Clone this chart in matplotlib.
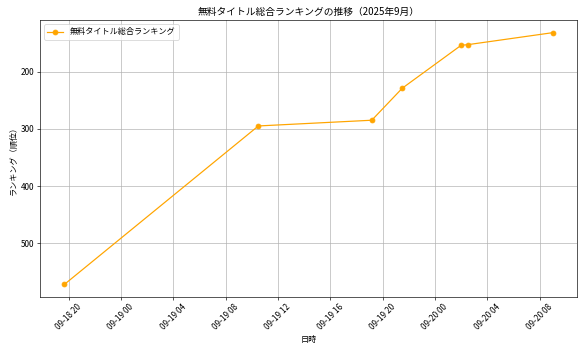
import pandas as pd
import matplotlib
matplotlib.use("Agg")
import matplotlib.pyplot as plt
import matplotlib.dates as mdates

plt.rcParams['font.family'] = ['Noto Sans CJK JP', 'DejaVu Sans']

# データ
times = ["2025-09-18 19:40", "2025-09-19 10:30", "2025-09-19 19:10",
         "2025-09-19 21:30", "2025-09-20 02:00", "2025-09-20 02:30",
         "2025-09-20 09:00"]
ranks = [572, 295, 285, 229, 154, 153, 132]
label = "無料タイトル総合ランキング"

dt = pd.to_datetime(times)

DPI = 58.6
fig = plt.figure(figsize=(586 / DPI, 352 / DPI), dpi=DPI)
ax = fig.add_axes([0.068, 0.156, 0.917, 0.787])

ax.plot(dt, ranks, marker='o', color='orange', label=label)
ax.invert_yaxis()

ax.xaxis.set_major_locator(mdates.HourLocator(byhour=range(0, 24, 4)))
ax.xaxis.set_major_formatter(mdates.DateFormatter('%m-%d %H'))
plt.setp(ax.get_xticklabels(), rotation=45)

ax.set_title("無料タイトル総合ランキングの推移（2025年9月）")
ax.set_xlabel("日時")
ax.set_ylabel("ランキング（順位）")
ax.grid(True)
ax.legend(loc='upper left')

fig.savefig("out.png", dpi=DPI)
